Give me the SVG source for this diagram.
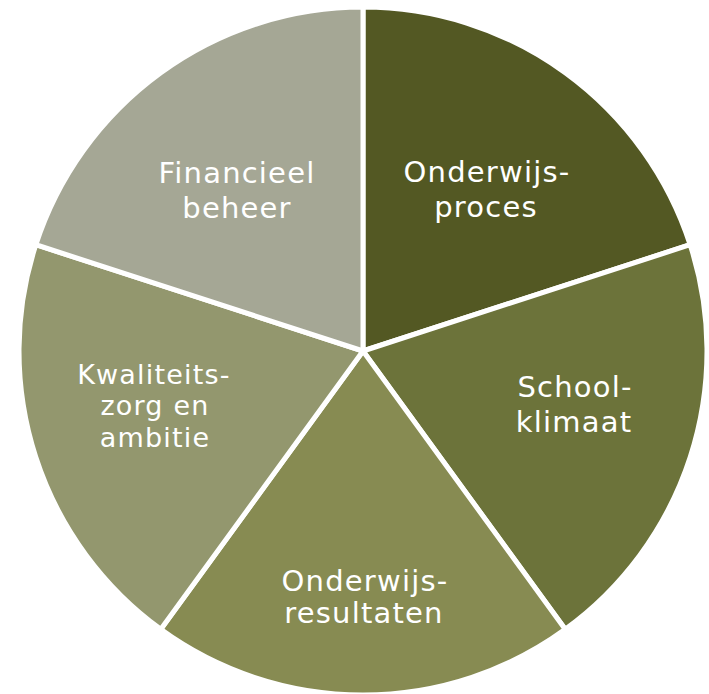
<svg xmlns="http://www.w3.org/2000/svg" width="709" height="694" viewBox="0 0 709 694">
<style>
.s{stroke:#fff;stroke-width:5;stroke-linejoin:miter}
.t{font-family:"DejaVu Sans",Verdana,sans-serif;font-size:29px;fill:#fff;text-anchor:middle;letter-spacing:1.2px}
.k{font-size:27px}
</style>
<rect width="709" height="694" fill="#fff"/>
<g id="onderwijsproces">
<path class="s" fill="#535823" d="M363,351 L363,7 A344,344 0 0 1 690.16,244.70 Z"/>
<text class="t" x="487" y="182">Onderwijs-</text>
<text class="t" x="486" y="217">proces</text>
</g>
<g id="schoolklimaat">
<path class="s" fill="#6c733a" d="M363,351 L690.16,244.70 A344,344 0 0 1 565.20,629.30 Z"/>
<text class="t" x="575" y="397">School-</text>
<text class="t" x="574" y="432">klimaat</text>
</g>
<g id="onderwijsresultaten">
<path class="s" fill="#878b52" d="M363,351 L565.20,629.30 A344,344 0 0 1 160.80,629.30 Z"/>
<text class="t" x="365" y="591">Onderwijs-</text>
<text class="t" x="364" y="623">resultaten</text>
</g>
<g id="kwaliteitszorg">
<path class="s" fill="#93976e" d="M363,351 L160.80,629.30 A344,344 0 0 1 35.84,244.70 Z"/>
<text class="t k" x="154" y="384">Kwaliteits-</text>
<text class="t k" x="155" y="415">zorg en</text>
<text class="t k" x="155" y="447">ambitie</text>
</g>
<g id="financieel">
<path class="s" fill="#a5a795" d="M363,351 L35.84,244.70 A344,344 0 0 1 363,7 Z"/>
<text class="t" x="237" y="183">Financieel</text>
<text class="t" x="237" y="218">beheer</text>
</g>
<g id="connectors"></g>
</svg>
